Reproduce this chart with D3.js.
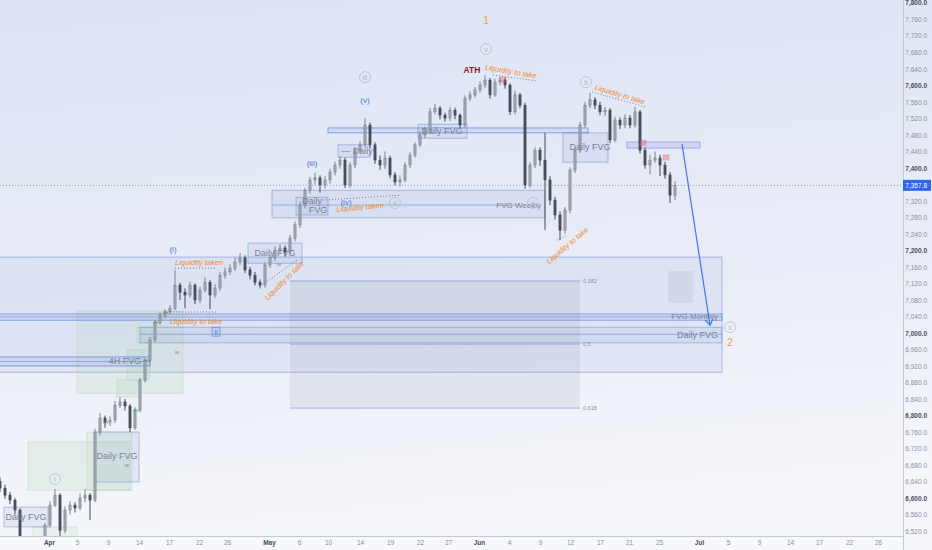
<!DOCTYPE html>
<html><head><meta charset="utf-8">
<script src="https://cdn.jsdelivr.net/npm/d3@7"></script>
<style>body{margin:0;background:#fff}svg{display:block}</style>
</head><body>
<svg id="c" width="932" height="550"></svg>
<script>
// ---- data (bar index = half trading session) ----
const firstOpen = 6640;
const closes = [6624,6607,6595,6571,6498,6486,6479,6479,6486,6534,6583,6607,6522,6571,6583,6576,6600,6607,6595,6760,
6794,6784,6789,6825,6833,6823,6770,6813,6886,6934,6983,7026,7043,7051,7060,7116,7099,7092,7116,7080,
7104,7123,7092,7109,7140,7148,7157,7172,7182,7153,7140,7123,7116,7165,7182,7201,7206,7196,7230,7262,
7310,7346,7371,7376,7359,7371,7390,7407,7419,7359,7407,7443,7456,7504,7456,7419,7407,7424,7383,7366,
7371,7407,7431,7456,7480,7492,7536,7545,7528,7521,7540,7528,7504,7569,7577,7589,7601,7613,7577,7608,
7613,7601,7536,7577,7552,7359,7407,7443,7419,7371,7322,7286,7249,7298,7395,7443,7504,7552,7565,7552,
7536,7540,7468,7516,7504,7521,7504,7536,7443,7407,7419,7424,7407,7383,7334,7358];
const highs = [6650,6632,6615,6600,6575,6505,6492,6488,6495,6540,6592,6622,6612,6580,6592,6590,6612,6622,6612,6768,
6806,6800,6798,6835,6845,6840,6828,6820,6892,6940,6990,7032,7050,7058,7068,7153,7122,7108,7124,7120,
7112,7135,7128,7118,7148,7158,7166,7182,7194,7188,7160,7148,7130,7172,7190,7210,7215,7212,7238,7270,
7318,7352,7378,7388,7382,7380,7398,7415,7428,7425,7414,7450,7465,7521,7510,7462,7430,7440,7430,7390,
7382,7414,7438,7462,7488,7500,7545,7555,7550,7534,7548,7546,7532,7576,7586,7596,7610,7625,7618,7616,
7620,7618,7605,7588,7582,7558,7414,7450,7450,7485,7380,7330,7295,7305,7402,7450,7512,7560,7582,7572,
7560,7548,7545,7524,7522,7530,7528,7548,7540,7450,7432,7440,7432,7415,7390,7368];
const lows = [6615,6598,6585,6560,6490,6478,6470,6470,6472,6480,6528,6578,6508,6515,6560,6565,6570,6590,6547,6590,
6752,6770,6775,6782,6818,6812,6760,6765,6808,6880,6928,6978,7020,7036,7045,7055,7080,7060,7085,7070,
7072,7098,7058,7085,7102,7132,7140,7150,7165,7145,7130,7115,7108,7110,7158,7175,7192,7185,7190,7222,
7255,7302,7338,7360,7340,7350,7362,7382,7398,7352,7352,7400,7436,7450,7448,7410,7396,7398,7375,7358,
7355,7365,7400,7425,7450,7472,7486,7530,7518,7512,7514,7518,7496,7498,7562,7570,7582,7594,7568,7572,
7600,7592,7528,7530,7545,7350,7352,7400,7405,7250,7310,7275,7225,7240,7290,7388,7436,7498,7545,7542,
7528,7526,7460,7462,7494,7496,7496,7498,7435,7398,7385,7412,7380,7374,7315,7322];
const lastPrice = 7357.8;
const tickBars   = [9.8,15.4,21.6,27.8,33.8,39.8,45.4,53.8,59.8,65.6,72,78,84,89.6,95.8,101.8,108,114,120,125.8,131.8,139.8,145.6,151.8,158,163.8,169.8,175.6];
const tickLabels = ["Apr","5","9","14","17","22","26","May","6","10","14","19","22","27","Jun","4","9","12","17","21","25","Jul","5","9","14","17","22","26"];
const monthLabels = ["Apr","May","Jun","Jul"];
const priceTicks = d3.range(6520, 7801, 40);
const boldTicks = [6600,6800,7000,7200,7400,7600,7800];

// zones: [bar1, bar2, priceTop, priceBottom, kind]
const zones = [
  [-1,144.4,7184,6905,"big"],
  [58,116,7126,6818,"fib"],
  [133.6,138.6,7150,7073,"gray"],
  [15.4,36.6,7053,6854,"green"],
  [5.6,26,6736,6619,"green"],
  [17.4,26.4,6760,6619,"green"],
  [6.6,15.4,6530,6500,"green"],
  [27.4,30.4,7014,6976,"green"],
  [25.4,30,6959,6886,"green"],
  [23.4,28,6886,6845,"green"],
  [-1,144.4,7046,7031,"line"],
  [28,144.4,7014,6976,"fvg"],
  [-1,30,6942,6920,"line"],
  [54.4,109,7346,7279,"fvg"],
  [65.6,117.6,7497,7485,"line"],
  [83.6,93.4,7506,7472,"fvg"],
  [67.6,74,7456,7426,"fvg"],
  [59.2,65.6,7329,7286,"fvg"],
  [49.6,60.4,7218,7169,"fvg"],
  [112.6,121.6,7485,7414,"fvg"],
  [125.4,140,7463,7448,"fvg4h"],
  [19,27.8,6760,6639,"fvg"],
  [0.8,9.6,6578,6530,"fvg"]
];
// horizontal lines: [bar1, bar2, price]
const hLines = [[-1,144.4,7039],[28,144.4,6997],[-1,30,6931],[54.4,104,7310],[58,116,7126],[58,116,6973],[58,116,6818]];
const fibLevels = [[7126,"0.382"],[6973,"0.5"],[6818,"0.618"]];
// zone labels: [bar, price, text, anchor]
const zoneLabels = [
  [23.4,6702,"Daily FVG","middle"],[5.2,6554,"Daily FVG","middle"],[88.4,7489,"Daily FVG","middle"],
  [71.4,7441,"— Daily","middle"],[62.4,7320,"Daily","middle"],[63.6,7298,"FVG","middle"],
  [55,7194,"Daily FVG","middle"],[118,7451,"Daily FVG","middle"],[25,6932,"4H FVG","middle"],
  [108.2,7310,"FVG Weekly","end"],[143.6,7041,"FVG Monthly","end"],[143.6,6995,"Daily FVG","end"]
];
// liquidity notes: [bar, price, text, angle]
const liqNotes = [
  [102.2,7635,"Liquidity to take",10],[72,7306,"Liquidity taken",-5],[113.4,7213,"Liquidity to take",-40],
  [124,7579,"Liquidity to take",17],[39.8,7172,"Liquidity taken",0],[56.8,7128,"Liquidity to take",-45],
  [39.2,7029,"Liquidity to take",0]
];
// dotted liquidity lines: [bar1, price1, bar2, price2]
const liqLines = [[98.6,7625,107.4,7611],[64.6,7322,80,7334],[111.4,7225,113.6,7237],[118.4,7584,129,7548],
  [35,7157,43.4,7157],[52.4,7116,59.4,7177],[34,7051,43.4,7051]];
// wave labels: [bar, price, text]
const waveLabels = [[73,7565,"(v)"],[62.4,7412,"(iii)"],[34.6,7203,"(i)"],[69.2,7317,"(iv)"]];
const circled = [[97.2,7688,"v"],[73,7620,"iii"],[79,7315,"ii"],[106.6,7315,"a"],[117.2,7608,"b"],[146,7014,"c"],[11,6646,"i"]];
const orangeNums = [[97.2,7759,"1"],[146,6978,"2"]];
const smallW = [[35.4,6954],[25.4,6680],[55.8,7168]];
const arrowPts = [[136.4,7458],[142,7019]];
const redMarks = [[100.6,7613],[128.6,7460],[133.2,7424]];

// ---- drawing ----
const svg = d3.select("#c");
const W=932,H=550,R=903,B=536;
const x = d3.scaleLinear().domain([0,180.6]).range([0,903]);
const y = d3.scaleLinear().domain([6508,7807]).range([B,0]);
const FONT = "Liberation Sans, Arial";

const defs = svg.append("defs");
const g1 = defs.append("linearGradient").attr("id","bg").attr("x1",0).attr("y1",0).attr("x2",0.15).attr("y2",1);
g1.append("stop").attr("offset","0%").attr("stop-color","#dde4f4");
g1.append("stop").attr("offset","60%").attr("stop-color","#e9edf7");
g1.append("stop").attr("offset","100%").attr("stop-color","#f6f7fb");
defs.append("clipPath").attr("id","clip").append("rect").attr("x",0).attr("y",0).attr("width",R).attr("height",B);

svg.append("rect").attr("width",W).attr("height",H).attr("fill","url(#bg)");
svg.append("rect").attr("y",B).attr("width",W).attr("height",H-B).attr("fill","#f7f8fb");

const plot = svg.append("g").attr("clip-path","url(#clip)");

const zStyle = {
  big:{fill:"rgba(120,150,220,0.10)",stroke:"rgba(90,120,210,0.55)"},
  fib:{fill:"rgba(110,120,140,0.10)",stroke:"none"},
  gray:{fill:"rgba(120,130,150,0.12)",stroke:"none"},
  green:{fill:"rgba(150,200,150,0.13)",stroke:"rgba(150,200,150,0.35)"},
  line:{fill:"rgba(90,120,210,0.12)",stroke:"rgba(70,110,220,0.7)"},
  fvg:{fill:"rgba(120,145,210,0.13)",stroke:"rgba(100,125,200,0.55)"},
  fvg4h:{fill:"rgba(140,150,230,0.25)",stroke:"rgba(110,120,220,0.6)"}
};
plot.selectAll("rect.z").data(zones).join("rect")
  .attr("x",d=>x(d[0])).attr("width",d=>x(d[1])-x(d[0]))
  .attr("y",d=>y(d[2])).attr("height",d=>y(d[3])-y(d[2]))
  .attr("fill",d=>zStyle[d[4]].fill).attr("stroke",d=>zStyle[d[4]].stroke).attr("stroke-width",0.8);

plot.selectAll("line.h").data(hLines).join("line")
  .attr("x1",d=>x(d[0])).attr("x2",d=>x(d[1])).attr("y1",d=>y(d[2])).attr("y2",d=>y(d[2]))
  .attr("stroke","rgba(80,110,200,0.55)").attr("stroke-width",0.8);

plot.selectAll("text.fib").data(fibLevels).join("text")
  .attr("x",x(116)+3).attr("y",d=>y(d[0])+2).text(d=>d[1])
  .attr("font-family",FONT).attr("font-size",5.5).attr("fill","#8a90a0");

// current price dotted line
plot.append("line").attr("x1",0).attr("x2",R).attr("y1",y(lastPrice)).attr("y2",y(lastPrice))
  .attr("stroke","#9aa3b8").attr("stroke-width",1).attr("stroke-dasharray","1,2");

// candles
const bars = closes.map((c,i)=>({i,o:i?closes[i-1]:firstOpen,c,h:highs[i],l:lows[i]}));
const cg = plot.append("g");
cg.selectAll("line").data(bars).join("line")
  .attr("x1",d=>x(d.i)).attr("x2",d=>x(d.i)).attr("y1",d=>y(d.h)).attr("y2",d=>y(d.l))
  .attr("stroke",d=>d.c>=d.o?"#7d8493":"#454b58").attr("stroke-width",1);
cg.selectAll("rect").data(bars).join("rect")
  .attr("x",d=>x(d.i)-1.1).attr("width",2.2)
  .attr("y",d=>y(Math.max(d.o,d.c))).attr("height",d=>Math.max(1,Math.abs(y(d.o)-y(d.c))))
  .attr("fill",d=>d.c>=d.o?"#a3a9b5":"#4b5160").attr("stroke",d=>d.c>=d.o?"#6f7685":"#3d424e").attr("stroke-width",0.5);

// green 4H marks on rally
plot.selectAll("text.g4").data([21,27,29,31,33]).join("text")
  .attr("x",d=>x(d)-2).attr("y",d=>y(closes[d])+2).text("4H")
  .attr("font-size",4).attr("fill","#43a047").attr("font-family",FONT);

// zone labels
plot.selectAll("text.zl").data(zoneLabels).join("text")
  .attr("x",d=>x(d[0])).attr("y",d=>y(d[1])+3).attr("text-anchor",d=>d[3]).text(d=>d[2])
  .attr("font-family",FONT).attr("font-size",d=>d[2]==="FVG Weekly"||d[2]==="FVG Monthly"?8:9)
  .attr("fill","#7a8193");

// dotted liquidity lines
plot.selectAll("line.lq").data(liqLines).join("line")
  .attr("x1",d=>x(d[0])).attr("y1",d=>y(d[1])).attr("x2",d=>x(d[2])).attr("y2",d=>y(d[3]))
  .attr("stroke","#6b7384").attr("stroke-width",0.9).attr("stroke-dasharray","1,2");

plot.selectAll("text.lq").data(liqNotes).join("text")
  .attr("transform",d=>`translate(${x(d[0])},${y(d[1])}) rotate(${d[3]})`)
  .attr("text-anchor","middle").attr("dy",3).text(d=>d[2])
  .attr("font-family",FONT).attr("font-style","italic").attr("font-size",7.5).attr("fill","#f0892a");

plot.selectAll("text.wv").data(waveLabels).join("text")
  .attr("x",d=>x(d[0])).attr("y",d=>y(d[1])+3).attr("text-anchor","middle").text(d=>d[2])
  .attr("font-family",FONT).attr("font-size",8).attr("fill","#4a72d9");

// boxed (ii)
const ii = plot.append("g").attr("transform",`translate(${x(43.2)},${y(7002)})`);
ii.append("rect").attr("x",-4).attr("y",-5).attr("width",8).attr("height",9).attr("fill","rgba(120,150,230,0.2)").attr("stroke","#5a80e0").attr("stroke-width",0.6);
ii.append("text").attr("y",2.5).attr("text-anchor","middle").text("ii").attr("font-size",7).attr("fill","#4a72d9").attr("font-family",FONT);

const cgp = plot.selectAll("g.circ").data(circled).join("g").attr("transform",d=>`translate(${x(d[0])},${y(d[1])})`);
cgp.append("circle").attr("r",5.5).attr("fill","none").attr("stroke","#b7bcc8").attr("stroke-width",0.8);
cgp.append("text").attr("y",2.5).attr("text-anchor","middle").text(d=>d[2]).attr("font-size",6.5).attr("fill","#a9aebb").attr("font-family",FONT);

plot.selectAll("text.on").data(orangeNums).join("text")
  .attr("x",d=>x(d[0])).attr("y",d=>y(d[1])+4).attr("text-anchor","middle").text(d=>d[2])
  .attr("font-family",FONT).attr("font-size",11).attr("fill","#f0a04a");

plot.selectAll("text.w").data(smallW).join("text")
  .attr("x",d=>x(d[0])).attr("y",d=>y(d[1])+2).attr("text-anchor","middle").text("w")
  .attr("font-family",FONT).attr("font-size",6).attr("fill","#8890a0");

plot.append("text").attr("x",x(94.4)).attr("y",y(7637)+3).attr("text-anchor","middle").text("ATH")
  .attr("font-family",FONT).attr("font-weight","bold").attr("font-size",8.5).attr("fill","#8e1c1c");

// red markers
plot.selectAll("rect.rm").data(redMarks).join("rect")
  .attr("x",d=>x(d[0])-3).attr("y",d=>y(d[1])-3).attr("width",6).attr("height",5)
  .attr("fill","rgba(230,90,110,0.35)").attr("stroke","rgba(220,80,100,0.5)").attr("stroke-width",0.5);

// arrow
const [a0,a1] = arrowPts;
const ax0=x(a0[0]),ay0=y(a0[1]),ax1=x(a1[0]),ay1=y(a1[1]);
plot.append("line").attr("x1",ax0).attr("y1",ay0).attr("x2",ax1).attr("y2",ay1).attr("stroke","#3f76e4").attr("stroke-width",1.2);
const ang = Math.atan2(ay1-ay0,ax1-ax0);
const ah = 7;
plot.append("path").attr("d",`M${ax1-ah*Math.cos(ang-0.6)},${ay1-ah*Math.sin(ang-0.6)}L${ax1},${ay1}L${ax1-ah*Math.cos(ang+0.6)},${ay1-ah*Math.sin(ang+0.6)}`)
  .attr("fill","none").attr("stroke","#3f76e4").attr("stroke-width",1.2);

// axes
const ya = svg.append("g").attr("transform",`translate(${R},0)`)
  .call(d3.axisRight(y).tickValues(priceTicks).tickSize(0).tickPadding(24).tickFormat(d3.format(",.1f")));
ya.select(".domain").attr("stroke","#c5c9d2");
ya.selectAll("text").attr("text-anchor","end").attr("font-family",FONT).attr("font-size",6.5)
  .attr("fill",d=>boldTicks.includes(d)?"#4a4f5c":"#8a909e").attr("font-weight",d=>boldTicks.includes(d)?"bold":"normal");

const xa = svg.append("g").attr("transform",`translate(0,${B})`)
  .call(d3.axisBottom(x).tickValues(tickBars).tickSize(0).tickPadding(4).tickFormat((d,i)=>tickLabels[i]));
xa.select(".domain").attr("stroke","#c5c9d2").attr("d",`M0,0.5H${R}`);
xa.selectAll("text").attr("font-family",FONT).attr("font-size",6.5)
  .attr("fill",(d,i)=>monthLabels.includes(tickLabels[i])?"#4a4f5c":"#8a909e")
  .attr("font-weight",(d,i)=>monthLabels.includes(tickLabels[i])?"bold":"normal");
svg.append("line").attr("x1",R+0.5).attr("x2",R+0.5).attr("y1",B).attr("y2",H).attr("stroke","#c5c9d2");

// last price tag
const tag = svg.append("g").attr("transform",`translate(${R},${y(lastPrice)})`);
tag.append("rect").attr("x",0).attr("y",-5.5).attr("width",28).attr("height",11).attr("fill","#2f66f0");
tag.append("text").attr("x",24).attr("y",2.5).attr("text-anchor","end").text(d3.format(",.1f")(lastPrice))
  .attr("font-family",FONT).attr("font-size",6.5).attr("fill","#fff");
</script>
</body></html>
